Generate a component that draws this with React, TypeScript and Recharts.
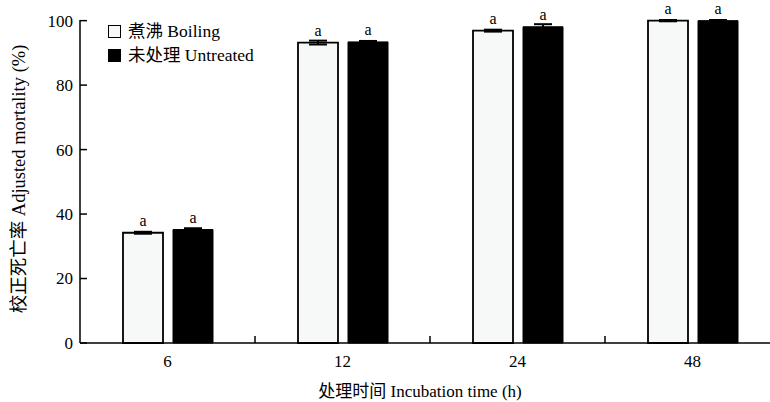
import React from "react";
import {
  BarChart,
  Bar,
  XAxis,
  YAxis,
  ErrorBar,
  LabelList,
  Label,
} from "recharts";

const times = ["6", "12", "24", "48"];
const boiling = [34.2, 93.2, 96.9, 100];
const untreated = [35.2, 93.4, 98.1, 100];
const boilingErr = [0.3, 0.6, 0.3, 0.2];
const untreatedErr = [0.4, 0.3, 0.8, 0.2];
const letters = ["a", "a", "a", "a"];
const yTicks = [0, 20, 40, 60, 80, 100];
const seriesNames = ["煮沸 Boiling", "未处理 Untreated"];
const seriesFills = ["#f7f8f8", "#000"];

const FONT = '"Liberation Serif", "Times New Roman", "Noto Sans CJK SC", serif';
const CHART_W = 780;
const CHART_H = 402;
const Y_AXIS_W = 80;
const BAND = (CHART_W - Y_AXIS_W) / times.length;

const data = times.map((t, i) => ({
  time: t,
  boiling: boiling[i],
  untreated: untreated[i],
  boilingErr: boilingErr[i],
  untreatedErr: untreatedErr[i],
  letter: letters[i],
}));

const XTick = (props: any) => {
  const { x, y, payload, index } = props;
  return (
    <g>
      {index < times.length - 1 && (
        <line x1={x + BAND / 2} x2={x + BAND / 2} y1={y} y2={y - 7} stroke="#000" strokeWidth={1.5} />
      )}
      <text x={x} y={y + 24} textAnchor="middle" fontFamily={FONT} fontSize={17} fill="#000">
        {payload.value}
      </text>
    </g>
  );
};

const YTick = (props: any) => {
  const { x, y, payload } = props;
  return (
    <g>
      <line x1={x} x2={x + 7} y1={y} y2={y} stroke="#000" strokeWidth={1.5} />
      <text x={x - 7} y={y} dy="0.35em" textAnchor="end" fontFamily={FONT} fontSize={17} fill="#000">
        {payload.value}
      </text>
    </g>
  );
};

const LegendBox = () => (
  <div
    style={{
      position: "absolute",
      left: 108,
      top: 19,
      fontFamily: FONT,
      fontSize: 17.5,
      color: "#000",
      lineHeight: "24px",
    }}
  >
    {seriesNames.map((name, i) => (
      <div key={name} style={{ display: "flex", alignItems: "center" }}>
        <span
          style={{
            display: "inline-block",
            width: 11,
            height: 11,
            background: seriesFills[i],
            border: "1.5px solid #000",
            marginRight: 7,
          }}
        />
        <span>{name}</span>
      </div>
    ))}
  </div>
);

export default function App() {
  return (
    <div
      style={{
        position: "fixed",
        left: 0,
        top: 0,
        width: 770,
        height: 402,
        overflow: "hidden",
        background: "#fff",
      }}
    >
      <BarChart
        width={CHART_W}
        height={CHART_H}
        data={data}
        margin={{ top: 20, right: 0, left: 0, bottom: 0 }}
        barSize={40}
        barGap={10}
      >
        <XAxis
          dataKey="time"
          height={59}
          axisLine={{ stroke: "#000", strokeWidth: 1.5 }}
          tickLine={false}
          tickSize={0}
          tickMargin={0}
          tick={<XTick />}
          interval={0}
        >
          <Label
            content={() => (
              <text x={420} y={397} textAnchor="middle" fontFamily={FONT} fontSize={17} fill="#000">
                处理时间 Incubation time (h)
              </text>
            )}
          />
        </XAxis>
        <YAxis
          width={Y_AXIS_W}
          domain={[0, 100]}
          ticks={yTicks}
          axisLine={{ stroke: "#000", strokeWidth: 1.5 }}
          tickLine={false}
          tickSize={0}
          tickMargin={0}
          tick={<YTick />}
        >
          <Label
            content={() => (
              <text
                x={19}
                y={179}
                transform="rotate(-90 19 179)"
                textAnchor="middle"
                dominantBaseline="central"
                fontFamily={FONT}
                fontSize={18.5}
                fill="#000"
              >
                校正死亡率 Adjusted mortality (%)
              </text>
            )}
          />
        </YAxis>
        <Bar
          dataKey="boiling"
          name={seriesNames[0]}
          fill={seriesFills[0]}
          stroke="#000"
          strokeWidth={1.8}
          isAnimationActive={false}
        >
          <ErrorBar dataKey="boilingErr" width={9} stroke="#000" strokeWidth={2} direction="y" />
          <LabelList
            dataKey="letter"
            position="top"
            offset={7}
            style={{ fontFamily: FONT, fontSize: 16, fill: "#000" }}
          />
        </Bar>
        <Bar
          dataKey="untreated"
          name={seriesNames[1]}
          fill={seriesFills[1]}
          stroke="#000"
          strokeWidth={1}
          isAnimationActive={false}
        >
          <ErrorBar dataKey="untreatedErr" width={9} stroke="#000" strokeWidth={2} direction="y" />
          <LabelList
            dataKey="letter"
            position="top"
            offset={7}
            style={{ fontFamily: FONT, fontSize: 16, fill: "#000" }}
          />
        </Bar>
      </BarChart>
      <LegendBox />
    </div>
  );
}
